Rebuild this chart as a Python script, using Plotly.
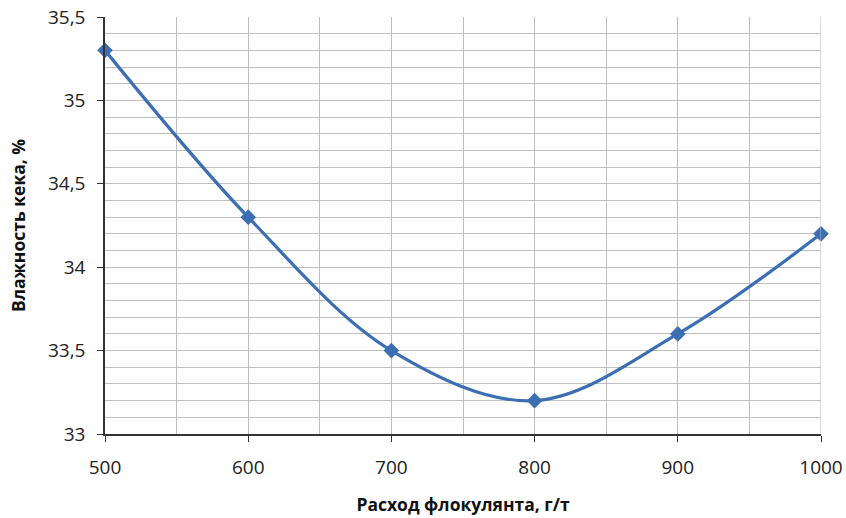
import plotly.graph_objects as go

# Flocculant dosage (g/t) and resulting cake moisture (%)
dosage = [500, 600, 700, 800, 900, 1000]
moisture = [35.3, 34.3, 33.5, 33.2, 33.6, 34.2]

x_ticks = [500, 600, 700, 800, 900, 1000]
x_tick_labels = ["500", "600", "700", "800", "900", "1000"]
y_ticks = [33, 33.5, 34, 34.5, 35, 35.5]
y_tick_labels = ["33", "33,5", "34", "34,5", "35", "35,5"]

line_color = "#3C6EB4"
grid_color = "#BEBEBE"
font_family = "Open Sans, Noto Sans, sans-serif"

fig = go.Figure()
fig.add_trace(go.Scatter(
    x=dosage,
    y=moisture,
    mode="lines+markers",
    line=dict(color=line_color, width=3.2, shape="spline", smoothing=1.0),
    marker=dict(symbol="diamond", size=12, color=line_color),
    showlegend=False,
    cliponaxis=False,
))

fig.update_layout(
    width=846,
    height=518,
    margin=dict(l=105, r=25, t=17, b=84, autoexpand=False),
    paper_bgcolor="white",
    plot_bgcolor="white",
    font=dict(family=font_family, color="#222222"),
)

fig.update_xaxes(
    range=[500, 1000],
    tickvals=x_ticks,
    ticktext=x_tick_labels,
    tickfont=dict(size=19, color="#222222"),
    ticks="outside",
    ticklen=6,
    tickcolor="#333333",
    ticklabelstandoff=9,
    showline=True,
    linecolor="#333333",
    linewidth=1.5,
    showgrid=True,
    gridcolor=grid_color,
    gridwidth=1,
    minor=dict(dtick=50, tick0=500, showgrid=True, gridcolor=grid_color, gridwidth=1),
    zeroline=False,
    automargin=False,
    title=dict(text="<b>Расход флокулянта, г/т</b>", font=dict(size=17.5, color="#111111"), standoff=20),
)

fig.update_yaxes(
    range=[33, 35.5],
    tickvals=y_ticks,
    ticktext=y_tick_labels,
    tickfont=dict(size=19, color="#222222"),
    ticks="outside",
    ticklen=6,
    tickcolor="#333333",
    ticklabelstandoff=8,
    showline=True,
    linecolor="#333333",
    linewidth=1.5,
    showgrid=True,
    gridcolor=grid_color,
    gridwidth=1,
    minor=dict(dtick=0.1, tick0=33, showgrid=True, gridcolor=grid_color, gridwidth=1),
    zeroline=False,
    automargin=False,
    title=dict(text="<b>Влажность кека, %</b>", font=dict(size=17.5, color="#111111"), standoff=18),
)

# Right border of the plotting area
fig.add_shape(type="line", xref="x", yref="paper", x0=1000, x1=1000, y0=0, y1=1,
              line=dict(color=grid_color, width=1))

fig.write_html("out.html")
